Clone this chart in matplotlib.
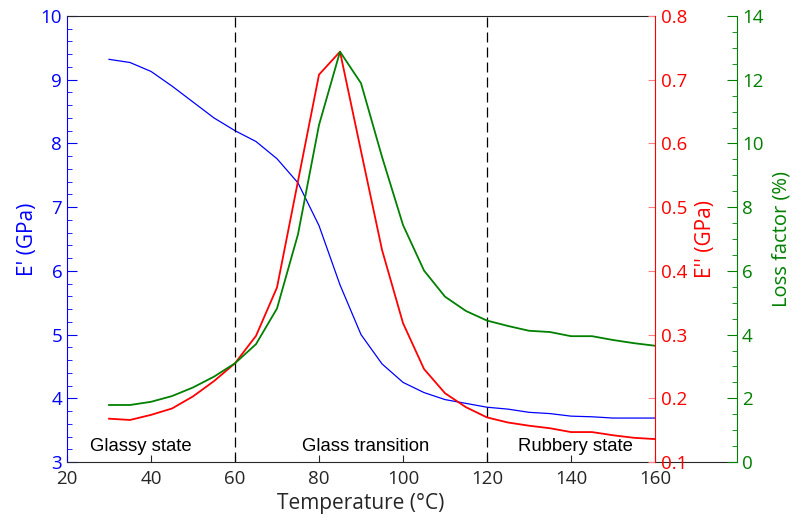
import matplotlib
matplotlib.use("Agg")
import matplotlib.pyplot as plt
from matplotlib.ticker import MultipleLocator

plt.rcParams['font.family'] = ['Open Sans', 'DejaVu Sans']

temp = [30, 35, 40, 45, 50, 55, 60, 65, 70, 75, 80, 85, 90, 95, 100,
        105, 110, 115, 120, 125, 130, 135, 140, 145, 150, 155, 160]
e_storage = [9.32, 9.27, 9.13, 8.90, 8.65, 8.40, 8.20, 8.03, 7.76, 7.38, 6.71, 5.78, 5.00,
             4.54, 4.25, 4.09, 3.98, 3.92, 3.86, 3.83, 3.78, 3.76, 3.72, 3.71, 3.69, 3.69, 3.69]
e_loss = [0.168, 0.166, 0.174, 0.184, 0.203, 0.227, 0.255, 0.298, 0.374, 0.541, 0.708, 0.744,
          0.588, 0.433, 0.318, 0.246, 0.208, 0.186, 0.170, 0.162, 0.157, 0.153, 0.147, 0.147,
          0.142, 0.138, 0.136]
loss_factor = [1.79, 1.79, 1.89, 2.07, 2.34, 2.68, 3.10, 3.70, 4.82, 7.15, 10.58, 12.88, 11.89,
               9.58, 7.44, 6.01, 5.19, 4.74, 4.44, 4.27, 4.12, 4.08, 3.95, 3.95, 3.83, 3.73, 3.65]

regions = ['Glassy state', 'Glass transition', 'Rubbery state']
region_x = [37.6, 91, 141]
boundaries = [60, 120]

dark = '#262626'
fs = 13.5      # tick labels
lfs = 15       # axis labels

fig = plt.figure(figsize=(7.95, 5.23), dpi=100)
ax = fig.add_axes([0.0843, 0.1166, 0.7396, 0.8528])

ax.plot(temp, e_storage, color='blue', lw=0.9)
ax.set_xlim(20, 160)
ax.set_ylim(3, 10)
ax.xaxis.set_major_locator(MultipleLocator(20))
ax.yaxis.set_major_locator(MultipleLocator(1))
ax.yaxis.set_minor_locator(MultipleLocator(0.2))
ax.tick_params(axis='x', direction='in', length=5, colors=dark, labelsize=fs, top=False, pad=6)
ax.tick_params(axis='y', which='major', direction='in', length=7, colors='blue', labelsize=fs)
ax.tick_params(axis='y', which='minor', direction='in', length=3.5, colors='blue')
ax.spines['left'].set_color('blue')
ax.spines['top'].set_color(dark)
ax.spines['bottom'].set_color(dark)
ax.spines['right'].set_visible(False)
ax.set_xlabel('Temperature (°C)', fontsize=lfs, color=dark, labelpad=3)
ax.set_ylabel("E' (GPa)", fontsize=lfs, color='blue', labelpad=2)

for b in boundaries:
    ax.axvline(b, color='black', lw=0.9, ls=(0, (8, 4)))
for name, xr in zip(regions, region_x):
    ax.text(xr, 3.11, name, ha='center', va='bottom', fontsize=13.3, color='black',
            family='Liberation Sans')

ax2 = ax.twinx()
ax2.plot(temp, e_loss, color='red', lw=1.3)
ax2.set_ylim(0.1, 0.8)
ax2.yaxis.set_major_locator(MultipleLocator(0.1))
ax2.tick_params(axis='y', direction='in', length=5, color='#ff8080', labelcolor='red',
                labelsize=fs, pad=4)
ax2.spines['right'].set_color('red')
for s in ['left', 'top', 'bottom']:
    ax2.spines[s].set_visible(False)
ax2.set_ylabel("E'' (GPa)", fontsize=lfs, color='red', labelpad=6)

ax3 = ax.twinx()
ax3.plot(temp, loss_factor, color='green', lw=1.3)
ax3.set_ylim(0, 14)
ax3.spines['right'].set_position(('axes', 1.1395))
ax3.spines['right'].set_color('green')
for s in ['left', 'top', 'bottom']:
    ax3.spines[s].set_visible(False)
ax3.yaxis.set_major_locator(MultipleLocator(2))
ax3.yaxis.set_minor_locator(MultipleLocator(0.5))
ax3.tick_params(axis='y', which='major', direction='in', length=7, colors='green', labelsize=fs)
ax3.tick_params(axis='y', which='minor', direction='in', length=3.5, colors='green')
ax3.set_ylabel('Loss factor (%)', fontsize=14.5, color='green', labelpad=6)

# bottom frame line continues under the extra axis
ax.plot([1, 1.1395], [0, 0], transform=ax.transAxes, color=dark, lw=0.8, clip_on=False)

fig.savefig('out.png', dpi=100)
